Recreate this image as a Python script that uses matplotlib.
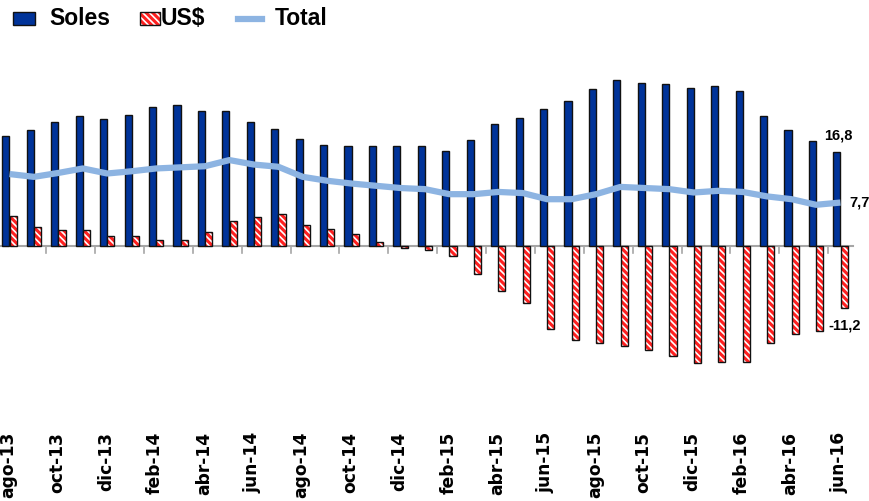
import matplotlib
matplotlib.use('Agg')
import matplotlib.pyplot as plt
from matplotlib.patches import Rectangle
from matplotlib.lines import Line2D
import numpy as np

months = ['ago-13', 'sep-13', 'oct-13', 'nov-13', 'dic-13', 'ene-14', 'feb-14', 'mar-14',
          'abr-14', 'may-14', 'jun-14', 'jul-14', 'ago-14', 'sep-14', 'oct-14', 'nov-14',
          'dic-14', 'ene-15', 'feb-15', 'mar-15', 'abr-15', 'may-15', 'jun-15', 'jul-15',
          'ago-15', 'sep-15', 'oct-15', 'nov-15', 'dic-15', 'ene-16', 'feb-16', 'mar-16',
          'abr-16', 'may-16', 'jun-16']
soles = [19.6, 20.6, 22.1, 23.2, 22.7, 23.4, 24.8, 25.1, 24.0, 24.1, 22.2, 20.8,
         19.1, 18.0, 17.8, 17.9, 17.8, 17.8, 16.9, 18.9, 21.8, 22.8, 24.4, 25.9,
         28.0, 29.6, 29.1, 28.9, 28.2, 28.5, 27.7, 23.2, 20.7, 18.7, 16.8]
usd = [5.35, 3.4, 2.8, 2.8, 1.7, 1.7, 1.0, 0.95, 2.5, 4.4, 5.1, 5.65,
       3.6, 3.0, 2.1, 0.65, -0.4, -0.85, -1.85, -5.0, -8.1, -10.2, -15.0, -16.9,
       -17.5, -17.9, -18.6, -19.7, -21.0, -20.9, -20.8, -17.4, -15.8, -15.2, -11.2]
total = [12.8, 12.3, 13.0, 13.8, 12.9, 13.3, 13.8, 14.0, 14.2, 15.3, 14.5, 14.1,
         12.3, 11.6, 11.1, 10.7, 10.3, 10.1, 9.2, 9.2, 9.6, 9.4, 8.3, 8.3,
         9.2, 10.5, 10.3, 10.1, 9.5, 9.8, 9.6, 8.8, 8.3, 7.3, 7.7]
labels_end = ['16,8', '7,7', '-11,2']
legend_names = ['Soles', 'US$', 'Total']

W, H = 869, 501
BLUE = '#003399'
RED = '#FF2020'
LINE = '#8DB4E2'
SANS = ['Liberation Sans', 'DejaVu Sans']

plt.rcParams['hatch.linewidth'] = 2.2
fig = plt.figure(figsize=(W / 100, H / 100), dpi=100)
ax = fig.add_axes([0, 0, 1, 1])

px_per_cat = 24.44
c0 = 9.5
y0 = 245.6
ppu = 5.59
ax.set_xlim(-c0 / px_per_cat, (W - c0) / px_per_cat)
ax.set_ylim((y0 - H) / ppu, y0 / ppu)
ax.axis('off')

x = np.arange(len(months))
bw = 0.29
off = 0.148
ax.bar(x - off, soles, width=bw, color=BLUE, edgecolor='#111111', linewidth=1.0, zorder=3)
ax.bar(x + off, usd, width=bw, color='white', edgecolor=RED, hatch='\\\\\\\\\\', linewidth=0, zorder=3)
ax.bar(x + off, usd, width=bw, fill=False, edgecolor='#111111', linewidth=1.0, zorder=4)
ax.plot(x, total, color=LINE, linewidth=4.5, solid_capstyle='butt', zorder=5)

# zero line with ticks
ax.plot([-0.5, len(months) - 0.5], [0, 0], color='#A6A6A6', linewidth=1.5, zorder=2)
tick_len = 7 / ppu
for t in np.arange(1.5, len(months) - 1, 2):
    ax.plot([t, t], [0, -tick_len], color='#A6A6A6', linewidth=1.2, zorder=2)

# x labels
for i in range(0, len(months), 2):
    ax.text(i - 0.05, (y0 - 432) / ppu, months[i], rotation=90, ha='center', va='top',
            fontsize=12.3, fontweight='bold', family='DejaVu Sans', color='black')

# end labels
n = len(months) - 1
ax.text(n - 0.1, soles[n] + 1.6, labels_end[0], ha='center', va='bottom', fontsize=10.5,
        fontweight='bold', family=SANS)
ax.text(n + 0.35, total[n], labels_end[1], ha='left', va='center', fontsize=10.5,
        fontweight='bold', family=SANS)
ax.text(n + 0.15, usd[n] - 1.9, labels_end[2], ha='center', va='top', fontsize=10.5,
        fontweight='bold', family=SANS)

# legend (figure pixel coords)
def fx(p):
    return p / W

def fy(p):
    return 1 - p / H

fig.patches.append(Rectangle((fx(13), fy(25)), 22 / W, 13 / H, transform=fig.transFigure,
                             facecolor=BLUE, edgecolor='#111111', linewidth=1.0))
fig.patches.append(Rectangle((fx(140), fy(25)), 20 / W, 13 / H, transform=fig.transFigure,
                             facecolor='white', edgecolor=RED, hatch='\\\\\\\\\\', linewidth=0))
fig.patches.append(Rectangle((fx(140), fy(25)), 20 / W, 13 / H, transform=fig.transFigure,
                             fill=False, edgecolor='#111111', linewidth=1.0))
fig.lines.append(Line2D([fx(238), fx(262)], [fy(18.5), fy(18.5)], transform=fig.transFigure,
                        color=LINE, linewidth=4.5))
for name, px in zip(legend_names, [49, 161, 275]):
    fig.text(fx(px), fy(18.5), name, ha='left', va='center', fontsize=16.5,
             fontweight='bold', family=SANS)

fig.savefig('out.png', dpi=100)
